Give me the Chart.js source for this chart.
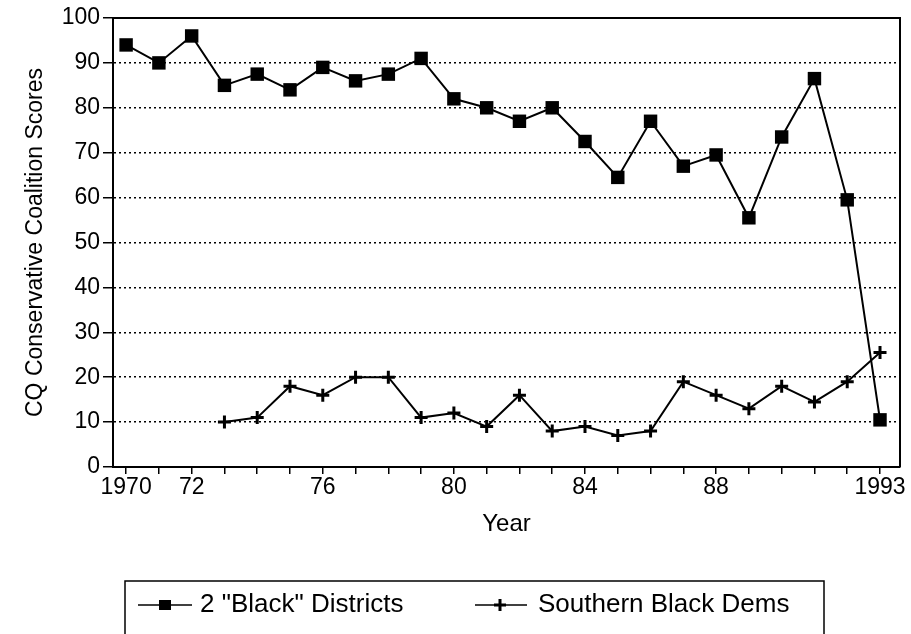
<!DOCTYPE html>
<html>
<head>
<meta charset="utf-8">
<script src="https://cdn.jsdelivr.net/npm/chart.js@4/dist/chart.umd.min.js"></script>
<style>
  body { margin: 0; background: #fff; }
  canvas { display: block; }
</style>
</head>
<body>
<canvas id="myChart" width="911" height="634"></canvas>
<script>
// Data
const years = [1970, 1971, 1972, 1973, 1974, 1975, 1976, 1977, 1978, 1979, 1980, 1981,
               1982, 1983, 1984, 1985, 1986, 1987, 1988, 1989, 1990, 1991, 1992, 1993];
const blackDistricts = [94, 90, 96, 85, 87.5, 84, 89, 86, 87.5, 91, 82, 80,
                        77, 80, 72.5, 64.5, 77, 67, 69.5, 55.5, 73.5, 86.5, 59.5, 10.5];
const southernDems = [null, null, null, 10, 11, 18, 16, 20, 20, 11, 12, 9,
                      16, 8, 9, 7, 8, 19, 16, 13, 18, 14.5, 19, 25.5];
const labeledYears = [1970, 1972, 1976, 1980, 1984, 1988, 1993];
const yearLabels = ['1970', '72', '76', '80', '84', '88', '1993'];
const seriesNames = ['2 "Black" Districts', 'Southern Black Dems'];

const FONT = "'Liberation Sans', Arial, Helvetica, sans-serif";
Chart.defaults.font.family = FONT;
Chart.defaults.color = '#000';

const toPoints = (vals) => years.map((y, i) => ({x: y, y: vals[i]}));

// frame on top and right of the plot
const framePlugin = {
    id: 'frame',
    beforeDatasetsDraw(chart){
        const a = chart.chartArea, ctx = chart.ctx;
        ctx.save();
        ctx.strokeStyle = '#000';
        ctx.lineWidth = 2;
        ctx.beginPath();
        ctx.moveTo(a.left, a.top);
        ctx.lineTo(a.right, a.top);
        ctx.lineTo(a.right, a.bottom);
        ctx.stroke();
        ctx.restore();
    }
};

// boxed legend under the x axis title
const boxLegend = {
    id: 'boxLegend',
    afterDraw(chart){
        const ctx = chart.ctx;
        const ds = chart.data.datasets;
        const cy = 605;
        ctx.save();
        ctx.strokeStyle = '#000';
        ctx.lineWidth = 1.5;
        ctx.strokeRect(125, 581, 699, 80);

        const items = [
            {x1: 138, x2: 192, mx: 165, tx: 200},
            {x1: 475, x2: 527, mx: 500, tx: 538}
        ];
        items.forEach((it, i) => {
            ctx.strokeStyle = ds[i].borderColor;
            ctx.lineWidth = 1.5;
            ctx.beginPath();
            ctx.moveTo(it.x1, cy);
            ctx.lineTo(it.x2, cy);
            ctx.stroke();
            if(ds[i].pointStyle === 'rect'){
                ctx.fillStyle = '#000';
                ctx.fillRect(it.mx - 6, cy - 5, 12, 10);
            } else {
                ctx.lineWidth = 3;
                ctx.beginPath();
                ctx.moveTo(it.mx - 6, cy); ctx.lineTo(it.mx + 6, cy);
                ctx.moveTo(it.mx, cy - 6); ctx.lineTo(it.mx, cy + 6);
                ctx.stroke();
            }
            ctx.fillStyle = '#000';
            ctx.font = `26px ${FONT}`;
            ctx.textBaseline = 'middle';
            ctx.textAlign = 'left';
            ctx.fillText(ds[i].label, it.tx, cy);
        });
        ctx.restore();
    }
};

const ctx = document.getElementById('myChart').getContext('2d');
const chart = new Chart(ctx, {
    type: 'line',
    data: {
        datasets: [{
            label: seriesNames[0],
            data: toPoints(blackDistricts),
            borderColor: '#000',
            backgroundColor: '#000',
            borderWidth: 2,
            pointStyle: 'rect',
            pointRadius: 9.5,
            pointBorderWidth: 0,
            pointBackgroundColor: '#000',
            tension: 0
        }, {
            label: seriesNames[1],
            data: toPoints(southernDems),
            borderColor: '#000',
            backgroundColor: '#000',
            borderWidth: 2,
            pointStyle: 'cross',
            pointRadius: 6.5,
            pointBorderWidth: 3,
            pointBorderColor: '#000',
            tension: 0
        }]
    },
    options: {
        responsive: false,
        animation: false,
        layout: { padding: { top: 18, right: 11, bottom: 95, left: 0 } },
        plugins: {
            legend: { display: false },
            tooltip: { enabled: false }
        },
        scales: {
            x: {
                type: 'linear',
                min: 1969.6,
                max: 1993.61,
                afterBuildTicks: (scale) => { scale.ticks = years.map(v => ({value: v})); },
                afterFit: (scale) => { scale.height = 72; },
                grid: { drawOnChartArea: false, color: '#000', tickColor: '#000', tickLength: 7, lineWidth: 1.5 },
                border: { color: '#000', width: 2 },
                ticks: {
                    autoSkip: false,
                    maxRotation: 0,
                    padding: 0,
                    font: { size: 23 },
                    callback: (value) => {
                        const i = labeledYears.indexOf(value);
                        return i >= 0 ? yearLabels[i] : '';
                    }
                },
                title: { display: true, text: 'Year', font: { size: 24 }, padding: { top: 0, bottom: 0 } }
            },
            y: {
                min: 0,
                max: 100,
                afterFit: (scale) => { scale.width = 113; },
                grid: { color: '#000', tickColor: '#000', lineWidth: 1.5, tickLength: 10, tickBorderDash: [] },
                border: { color: '#000', width: 2, dash: [2, 3] },
                ticks: { stepSize: 10, padding: 3, font: { size: 23 } },
                title: { display: true, text: 'CQ Conservative Coalition Scores', font: { size: 23 }, padding: { top: 22, bottom: 0 } }
            }
        }
    },
    plugins: [framePlugin, boxLegend]
});
</script>
</body>
</html>
